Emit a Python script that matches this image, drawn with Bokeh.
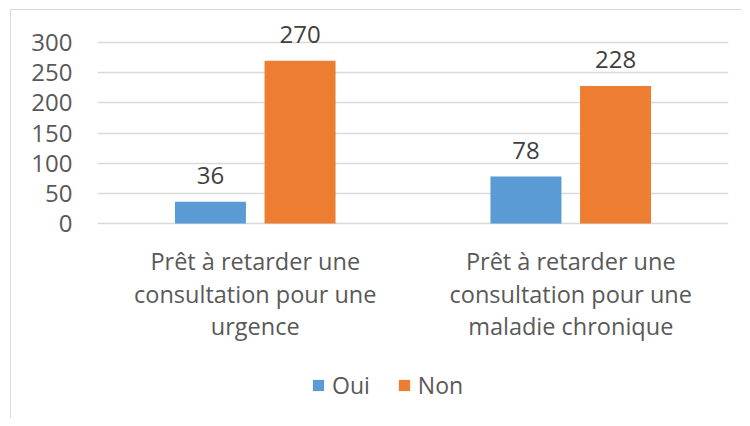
from bokeh.plotting import figure
from bokeh.models import ColumnDataSource, FactorRange, Legend, LegendItem, FixedTicker
from bokeh.transform import dodge
from bokeh.core.properties import value
from bokeh.embed import file_html
from bokeh.resources import INLINE

categories = ["urgence", "maladie chronique"]
category_lines = [["Prêt à retarder une", "consultation pour une", "urgence"],
                  ["Prêt à retarder une", "consultation pour une", "maladie chronique"]]
series_names = ["Oui", "Non"]
oui = [36, 78]
non = [270, 228]
y_ticks = [0, 50, 100, 150, 200, 250, 300]

FONT = "Open Sans"
BLUE = "#5B9BD5"
ORANGE = "#ED7D31"

src = ColumnDataSource(dict(cat=categories, oui=oui, non=non,
                            oui_lbl=[str(v) for v in oui],
                            non_lbl=[str(v) for v in non]))

# category label lines (offset below the zero line, in screen pixels)
line_gap = [37, 70, 102]
lab = dict(cat=[], txt=[], yoff=[], y=[])
for c, lines in zip(categories, category_lines):
    for i, t in enumerate(lines):
        lab["cat"].append(c)
        lab["txt"].append(t)
        lab["yoff"].append(line_gap[i])
        lab["y"].append(0)
lab_src = ColumnDataSource(lab)

p = figure(x_range=FactorRange(*categories, range_padding=0), y_range=(-323.2, 344.8),
           width=742, height=418, output_backend="svg", toolbar_location=None,
           x_axis_location=None,
           min_border_left=97, min_border_right=14, min_border_top=15, min_border_bottom=0)
p.outline_line_color = None
p.background_fill_color = "white"
p.border_fill_color = None

r1 = p.vbar(x=dodge("cat", -0.142, range=p.x_range), top="oui", width=0.225,
            source=src, fill_color=BLUE, line_color=None)
r2 = p.vbar(x=dodge("cat", 0.142, range=p.x_range), top="non", width=0.225,
            source=src, fill_color=ORANGE, line_color=None)

for col, off in (("oui", -0.142), ("non", 0.142)):
    p.text(x=dodge("cat", off, range=p.x_range), y=col, text=col + "_lbl", source=src,
           text_align="center", text_baseline="alphabetic", y_offset=-26,
           text_font=value(FONT), text_font_size="24px", text_color="#404040")

p.text(x="cat", y="y", text="txt", y_offset="yoff", source=lab_src,
       text_align="center", text_baseline="middle",
       text_font=value(FONT), text_font_size="23.5px", text_color="#595959")

p.yaxis.ticker = FixedTicker(ticks=y_ticks)
p.yaxis.axis_line_color = None
p.yaxis.major_tick_line_color = None
p.yaxis.minor_tick_line_color = None
p.yaxis.major_tick_out = 0
p.yaxis.major_label_standoff = 25
p.yaxis.major_label_text_font = FONT
p.yaxis.major_label_text_font_size = "24px"
p.yaxis.major_label_text_color = "#595959"

p.xgrid.grid_line_color = None
p.ygrid.grid_line_color = "#d9d9d9"
p.ygrid.grid_line_width = 1.5

legend = Legend(items=[LegendItem(label=series_names[0], renderers=[r1]),
                       LegendItem(label=series_names[1], renderers=[r2])],
                orientation="horizontal", location=(214, 17),
                border_line_color=None, background_fill_alpha=0,
                label_text_font=FONT, label_text_font_size="23px",
                label_text_color="#595959", glyph_width=14, glyph_height=14,
                label_standoff=7, spacing=27, margin=0, padding=0)
p.add_layout(legend)

p.styles = {"box-shadow": "inset 10px 9px 0 0 white, inset 11px 10px 0 0 #d9d9d9",
            "background-color": "white"}

open("out.html", "w").write(file_html(p, INLINE))
